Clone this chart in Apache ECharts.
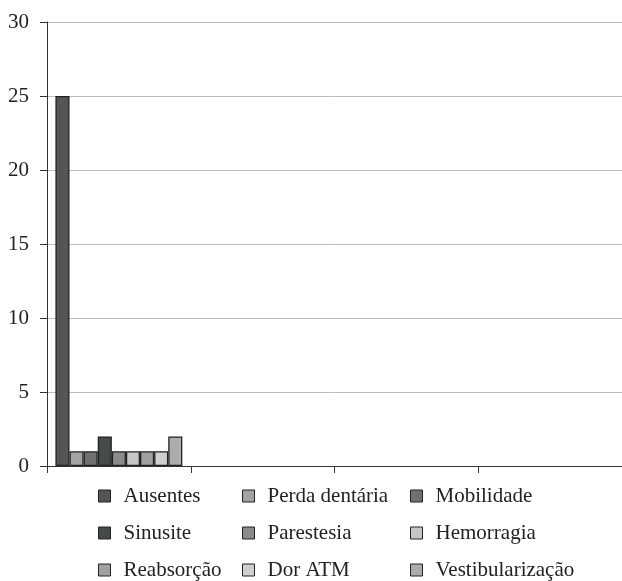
<!DOCTYPE html>
<html><head><meta charset="utf-8">
<script src="https://cdn.jsdelivr.net/npm/echarts@6/dist/echarts.min.js"></script>
<style>html,body{margin:0;padding:0;background:#fff}#c{width:622px;height:581px}</style>
</head><body><div id="c"></div>
<script>
const categories = ['', '', '', ''];
const seriesNames = ['Ausentes','Perda dentária','Mobilidade','Sinusite','Parestesia','Hemorragia','Reabsorção','Dor ATM','Vestibularização'];
const seriesValues = [25, 1, 1, 2, 1, 1, 1, 1, 2];
const seriesColors = ['#555555','#a3a3a3','#6f7270','#464a48','#8b8b8b','#c6c6c6','#a0a0a0','#cfcfcf','#acacac'];
const yTicks = [0, 5, 10, 15, 20, 25, 30];

const font = 'Liberation Serif';
const series = seriesNames.map((n, i) => ({
  name: n, type: 'bar',
  data: [seriesValues[i], '-', '-', '-'],
  barGap: '0%', barCategoryGap: '11.7%',
  itemStyle: { color: seriesColors[i], borderColor: '#222', borderWidth: 1.3 }
}));
const colLeft = [98, 242, 410];
const rowCenter = [496, 533, 570];
const legends = seriesNames.map((n, i) => ({
  left: colLeft[i % 3], top: rowCenter[Math.floor(i / 3)] - 11, padding: 0,
  data: [n], icon: 'rect', itemWidth: 12, itemHeight: 12,
  textStyle: { fontFamily: font, fontSize: 21, color: '#222', padding: [0, 0, 0, 8], lineHeight: 22 },
  itemStyle: { borderColor: '#222', borderWidth: 1 }
}));
const chart = echarts.init(document.getElementById('c'));
chart.setOption({
  animation: false,
  grid: { left: 47, top: 22, right: 0, bottom: 115, containLabel: false },
  legend: legends,
  xAxis: {
    type: 'category', data: categories,
    axisLine: { lineStyle: { color: '#333', width: 1 } },
    axisTick: { show: true, length: 7, lineStyle: { color: '#333' } },
    axisLabel: { show: false }
  },
  yAxis: {
    type: 'value', min: yTicks[0], max: yTicks[yTicks.length - 1], interval: 5,
    axisLine: { show: true, lineStyle: { color: '#333', width: 1 } },
    axisTick: { show: true, length: 7, lineStyle: { color: '#333' } },
    axisLabel: { fontFamily: font, fontSize: 21, color: '#222', margin: 18 },
    splitLine: { lineStyle: { color: '#bdbdbd', width: 1 } }
  },
  series: series
});
</script></body></html>
